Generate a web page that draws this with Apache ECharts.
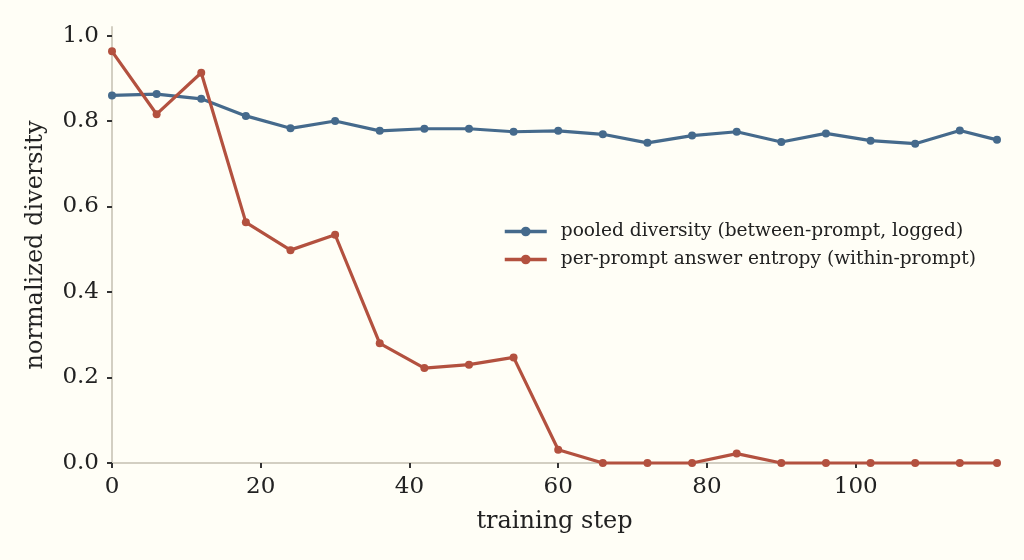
<!DOCTYPE html>
<html>
<head>
<meta charset="utf-8">
<script src="https://cdn.jsdelivr.net/npm/echarts@6/dist/echarts.min.js"></script>
<style>
  html, body { margin: 0; padding: 0; background: #fffef6; }
  #chart { width: 1024px; height: 560px; }
</style>
</head>
<body>
<div id="chart"></div>
<script>
const steps = [0, 6, 12, 18, 24, 30, 36, 42, 48, 54, 60, 66, 72, 78, 84, 90, 96, 102, 108, 114, 119];
const pooled = [0.860, 0.863, 0.852, 0.812, 0.783, 0.800, 0.777, 0.782, 0.782, 0.775, 0.777,
                0.769, 0.749, 0.766, 0.775, 0.751, 0.771, 0.754, 0.747, 0.778, 0.756];
const perPrompt = [0.963, 0.816, 0.913, 0.563, 0.498, 0.534, 0.280, 0.222, 0.230, 0.247, 0.031,
                   0, 0, 0, 0.022, 0, 0, 0, 0, 0, 0];
const xTicks = [0, 20, 40, 60, 80, 100];
const yTicks = [0, 0.2, 0.4, 0.6, 0.8, 1.0];
const names = ['pooled diversity (between-prompt, logged)', 'per-prompt answer entropy (within-prompt)'];

const FONT = '"DejaVu Serif", serif';
const blue = '#456a8c';
const red = '#b3513f';

const chart = echarts.init(document.getElementById('chart'));

function pairs(ys) {
    return steps.map((s, i) => [s, ys[i]]);
}

function lineSeries(name, ys, color) {
    return {
        name: name,
        type: 'line',
        data: pairs(ys),
        symbol: 'circle',
        symbolSize: 8,
        clip: false,
        lineStyle: { color: color, width: 3.2 },
        itemStyle: { color: color },
        emphasis: { disabled: true }
    };
}

chart.setOption({
    backgroundColor: '#fffef6',
    animation: false,
    textStyle: { fontFamily: FONT },
    grid: { left: 112, right: 27, top: 27, bottom: 97 },
    legend: {
        orient: 'vertical',
        left: 498,
        top: 217,
        itemWidth: 42,
        itemHeight: 12,
        itemGap: 9,
        lineStyle: { width: 3.5 },
        data: names,
        textStyle: { fontFamily: FONT, fontSize: 18.6, color: '#222', padding: [0, 0, 0, 9] }
    },
    xAxis: {
        type: 'value',
        min: 0,
        max: 119,
        name: 'training step',
        nameLocation: 'middle',
        nameGap: 47,
        nameTextStyle: { fontFamily: FONT, fontSize: 24, color: '#222' },
        axisLine: { show: true, lineStyle: { color: '#d3cfc2', width: 2 } },
        axisTick: { show: true, length: 5, customValues: xTicks, lineStyle: { color: '#333', width: 2 } },
        axisLabel: { customValues: xTicks, fontFamily: FONT, fontSize: 23, color: '#222', margin: 13 },
        splitLine: { show: false }
    },
    yAxis: {
        type: 'value',
        min: 0,
        max: 1.02,
        name: 'normalized diversity',
        nameLocation: 'middle',
        nameGap: 64,
        nameTextStyle: { fontFamily: FONT, fontSize: 24, color: '#222' },
        axisLine: { show: true, lineStyle: { color: '#d3cfc2', width: 2 } },
        axisTick: { show: true, length: 5, customValues: yTicks, lineStyle: { color: '#333', width: 2 } },
        axisLabel: {
            customValues: yTicks,
            fontFamily: FONT, fontSize: 23, color: '#222', margin: 13,
            formatter: v => v.toFixed(1)
        },
        splitLine: { show: false }
    },
    series: [
        lineSeries(names[0], pooled, blue),
        lineSeries(names[1], perPrompt, red)
    ]
});
</script>
</body>
</html>
